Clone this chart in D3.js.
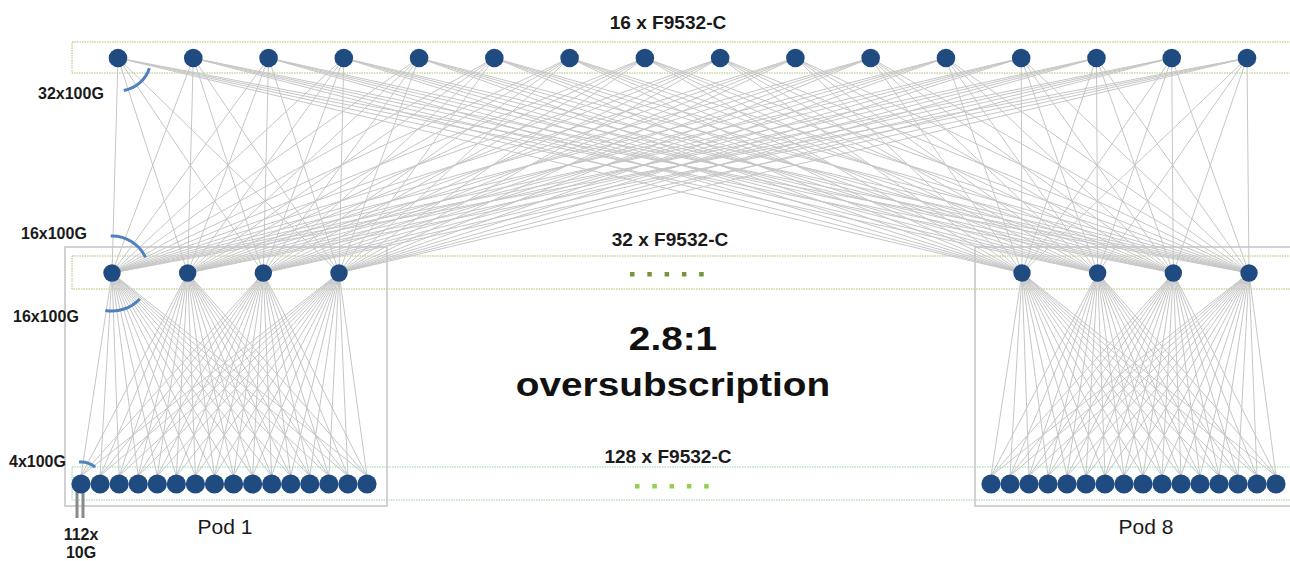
<!DOCTYPE html>
<html>
<head>
<meta charset="utf-8">
<script src="https://cdn.jsdelivr.net/npm/d3@7"></script>
<style>
    body { margin: 0; background: #fff; }
    text { font-family: "Liberation Sans", Arial, sans-serif; fill: #1a1a1a; }
    .link { stroke: #c6c6c6; stroke-width: 1; fill: none; }
    .node { fill: #1f4b80; }
    .speed { stroke: #4f81bd; stroke-width: 3; fill: none; }
</style>
</head>
<body>
<script>
(function(){
    //data for the diagram
    var tierLabels = ["16 x F9532-C", "32 x F9532-C", "128 x F9532-C"]; //switch counts per tier
    var spineIds = d3.range(16); //spine switches shown
    var podNames = ["Pod 1", "Pod 8"]; //pods shown
    var aggIds = d3.range(4); //aggregation switches per pod
    var leafIds = d3.range(16); //leaf switches per pod
    var linkLabels = ["32x100G", "16x100G", "16x100G", "4x100G"]; //uplink counts
    var serverLabel = ["112x", "10G"]; //leaf downlinks
    var ratioLabel = ["2.8:1", "oversubscription"];
    var ellipsis = d3.range(5); //dots for hidden pods

    window.onload = setMap();

    function setMap(){
        var width = 1290,
            height = 561;

        var svg = d3.select("body")
            .append("svg")
            .attr("width", width)
            .attr("height", height);

        //row heights of the three tiers
        var yRow = {spine: 58, agg: 273, leaf: 484};

        //horizontal scales
        var xSpine = d3.scalePoint().domain(spineIds).range([118, 1247]);
        var xAgg = {
            "Pod 1": d3.scalePoint().domain(aggIds).range([112, 339]),
            "Pod 8": d3.scalePoint().domain(aggIds).range([1022, 1249])
        };
        var xLeaf = {
            "Pod 1": d3.scalePoint().domain(leafIds).range([81, 367]),
            "Pod 8": d3.scalePoint().domain(leafIds).range([991, 1276])
        };

        //tier frames
        var frames = [
            {y: 42, h: 31, c: "#a9c46c"},
            {y: 256, h: 33, c: "#a9c46c"},
            {y: 467, h: 33, c: "#86dca4"}
        ];
        svg.selectAll(".frame")
            .data(frames)
            .enter()
            .append("rect")
            .attr("class", "frame")
            .attr("x", 72)
            .attr("y", function(d){ return d.y; })
            .attr("width", 1240)
            .attr("height", function(d){ return d.h; })
            .attr("fill", "none")
            .attr("stroke", function(d){ return d.c; })
            .attr("stroke-width", 1)
            .attr("stroke-dasharray", "1.5,1");

        //pod boxes
        var podBox = {"Pod 1": [65, 387], "Pod 8": [975, 1320]};
        svg.selectAll(".pod")
            .data(podNames)
            .enter()
            .append("rect")
            .attr("class", "pod")
            .attr("x", function(d){ return podBox[d][0]; })
            .attr("y", 247)
            .attr("width", function(d){ return podBox[d][1] - podBox[d][0]; })
            .attr("height", 259)
            .attr("fill", "none")
            .attr("stroke", "#c4c4c4")
            .attr("stroke-width", 1.5);

        //spine to aggregation links
        var upLinks = [];
        spineIds.forEach(function(s){
            podNames.forEach(function(p){
                aggIds.forEach(function(a){
                    upLinks.push({x1: xSpine(s), y1: yRow.spine, x2: xAgg[p](a), y2: yRow.agg});
                });
            });
        });
        //aggregation to leaf links
        var downLinks = [];
        podNames.forEach(function(p){
            aggIds.forEach(function(a){
                leafIds.forEach(function(l){
                    downLinks.push({x1: xAgg[p](a), y1: yRow.agg, x2: xLeaf[p](l), y2: yRow.leaf - 8});
                });
            });
        });
        svg.selectAll(".link")
            .data(upLinks.concat(downLinks))
            .enter()
            .append("line")
            .attr("class", "link")
            .attr("x1", function(d){ return d.x1; })
            .attr("y1", function(d){ return d.y1; })
            .attr("x2", function(d){ return d.x2; })
            .attr("y2", function(d){ return d.y2; });

        //server uplinks under first leaf
        svg.selectAll(".srv")
            .data([-3, 3])
            .enter()
            .append("line")
            .attr("x1", function(d){ return xLeaf["Pod 1"](0) + d - 1; })
            .attr("x2", function(d){ return xLeaf["Pod 1"](0) + d - 1; })
            .attr("y1", 490)
            .attr("y2", 518)
            .attr("stroke", "#8a8a8a")
            .attr("stroke-width", 3);

        //nodes
        svg.selectAll(".spine")
            .data(spineIds)
            .enter()
            .append("circle")
            .attr("class", "node")
            .attr("cx", function(d){ return xSpine(d); })
            .attr("cy", yRow.spine)
            .attr("r", 9.3);

        podNames.forEach(function(p){
            svg.selectAll(".agg" + p.replace(" ", ""))
                .data(aggIds)
                .enter()
                .append("circle")
                .attr("class", "node")
                .attr("cx", function(d){ return xAgg[p](d); })
                .attr("cy", yRow.agg)
                .attr("r", 8.7);
            svg.selectAll(".leaf" + p.replace(" ", ""))
                .data(leafIds)
                .enter()
                .append("circle")
                .attr("class", "node")
                .attr("cx", function(d){ return xLeaf[p](d); })
                .attr("cy", yRow.leaf)
                .attr("r", 9.6);
        });

        //ellipsis dots for hidden pods
        var dotRows = [
            {x0: 632, y: 274, c: "#77933c"},
            {x0: 637, y: 486, c: "#92d050"}
        ];
        dotRows.forEach(function(r){
            svg.selectAll(null)
                .data(ellipsis)
                .enter()
                .append("rect")
                .attr("x", function(d){ return r.x0 + d * 17.3 - 2; })
                .attr("y", r.y - 2)
                .attr("width", 4.5)
                .attr("height", 4.5)
                .attr("fill", r.c);
        });

        //speed arcs
        var arcs = [
            {cx: xSpine(0), cy: yRow.spine, r: 33, a0: 108, a1: 170},
            {cx: xAgg["Pod 1"](0), cy: yRow.agg, r: 37, a0: -2, a1: 65},
            {cx: xAgg["Pod 1"](0), cy: yRow.agg, r: 38, a0: 133, a1: 190},
            {cx: xLeaf["Pod 1"](0), cy: yRow.leaf, r: 22, a0: -5, a1: 40}
        ];
        svg.selectAll(".speed")
            .data(arcs)
            .enter()
            .append("path")
            .attr("class", "speed")
            .attr("transform", function(d){ return "translate(" + d.cx + "," + d.cy + ")"; })
            .attr("d", function(d){
                var p = d3.path();
                var a0 = (d.a0 - 90) * Math.PI / 180,
                    a1 = (d.a1 - 90) * Math.PI / 180;
                p.arc(0, 0, d.r, a0, a1, false);
                return p.toString();
            })
            .attr("stroke-width", function(d, i){ return i == 3 ? 2.5 : 3; });

        //tier titles (slightly stretched like the original slide)
        var titlePos = [[668, 29], [670, 246], [668, 463]];
        svg.selectAll(".tier")
            .data(tierLabels)
            .enter()
            .append("text")
            .attr("transform", function(d, i){
                return "translate(" + titlePos[i][0] + "," + titlePos[i][1] + ") scale(1.06,1)";
            })
            .attr("text-anchor", "middle")
            .attr("font-size", 18)
            .attr("font-weight", "bold")
            .text(function(d){ return d; });

        //link labels
        var labelPos = [[38, 99], [21, 239], [13, 322], [9, 467]];
        svg.selectAll(".lbl")
            .data(linkLabels)
            .enter()
            .append("text")
            .attr("x", function(d, i){ return labelPos[i][0]; })
            .attr("y", function(d, i){ return labelPos[i][1]; })
            .attr("font-size", 16)
            .attr("font-weight", "bold")
            .text(function(d){ return d; });

        svg.selectAll(".srvlbl")
            .data(serverLabel)
            .enter()
            .append("text")
            .attr("x", 81)
            .attr("y", function(d, i){ return 540 + i * 18; })
            .attr("text-anchor", "middle")
            .attr("font-size", 16)
            .attr("font-weight", "bold")
            .text(function(d){ return d; });

        //oversubscription text
        svg.selectAll(".ratio")
            .data(ratioLabel)
            .enter()
            .append("text")
            .attr("transform", function(d, i){
                return "translate(673," + (350 + i * 46) + ") scale(1.14,1)";
            })
            .attr("text-anchor", "middle")
            .attr("font-size", 34)
            .attr("font-weight", "bold")
            .style("fill", "#111")
            .text(function(d){ return d; });

        //pod names
        var podLabelX = {"Pod 1": 225, "Pod 8": 1146};
        svg.selectAll(".podlbl")
            .data(podNames)
            .enter()
            .append("text")
            .attr("x", function(d){ return podLabelX[d]; })
            .attr("y", 534)
            .attr("text-anchor", "middle")
            .attr("font-size", 21)
            .text(function(d){ return d; });
    }
})();
</script>
</body>
</html>
